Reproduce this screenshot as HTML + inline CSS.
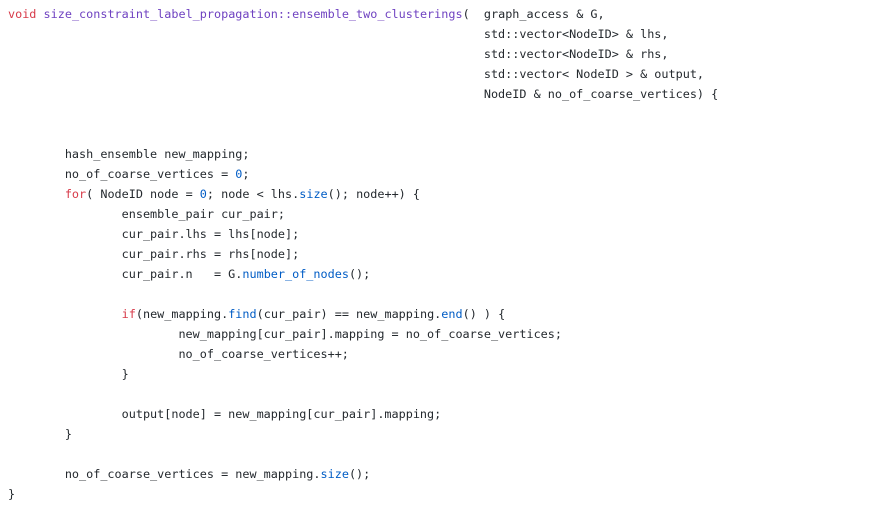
<!DOCTYPE html>
<html><head><meta charset="utf-8"><style>
html,body{margin:0;padding:0;background:#fff;width:894px;height:512px;overflow:hidden}
pre{position:absolute;left:8px;top:4px;margin:0;font-family:"DejaVu Sans Mono",monospace;font-size:11.8px;line-height:20px;color:#24292e;tab-size:8}
.k{color:#d73a49}.f{color:#6f42c1}.b{color:#005cc5}
</style></head><body>
<pre><span class="k">void</span> <span class="f">size_constraint_label_propagation::ensemble_two_clusterings</span>(  graph_access &amp; G,
                                                                   std::vector&lt;NodeID&gt; &amp; lhs,
                                                                   std::vector&lt;NodeID&gt; &amp; rhs,
                                                                   std::vector&lt; NodeID &gt; &amp; output,
                                                                   NodeID &amp; no_of_coarse_vertices) {


        hash_ensemble new_mapping;
        no_of_coarse_vertices = <span class="b">0</span>;
        <span class="k">for</span>( NodeID node = <span class="b">0</span>; node &lt; lhs.<span class="b">size</span>(); node++) {
                ensemble_pair cur_pair;
                cur_pair.lhs = lhs[node];
                cur_pair.rhs = rhs[node];
                cur_pair.n   = G.<span class="b">number_of_nodes</span>();

                <span class="k">if</span>(new_mapping.<span class="b">find</span>(cur_pair) == new_mapping.<span class="b">end</span>() ) {
                        new_mapping[cur_pair].mapping = no_of_coarse_vertices;
                        no_of_coarse_vertices++;
                }

                output[node] = new_mapping[cur_pair].mapping;
        }

        no_of_coarse_vertices = new_mapping.<span class="b">size</span>();
}</pre>
</body></html>
